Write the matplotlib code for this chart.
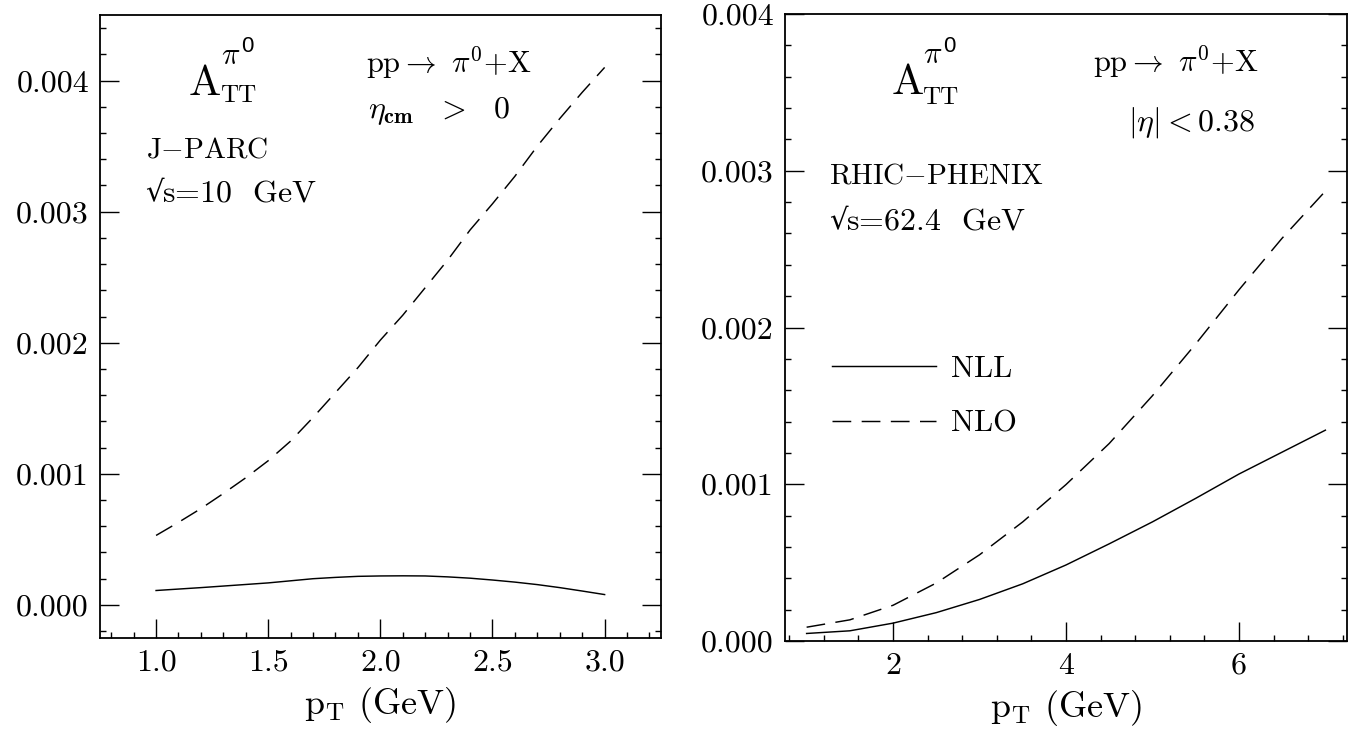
import matplotlib
matplotlib.use("Agg")
import matplotlib.pyplot as plt
from matplotlib.ticker import MultipleLocator

# ---------------- data ----------------
jparc_pt = [1.0, 1.1, 1.2, 1.3, 1.4, 1.5, 1.6, 1.7, 1.8, 1.9, 2.0,
            2.1, 2.2, 2.3, 2.4, 2.5, 2.6, 2.7, 2.8, 2.9, 3.0]
jparc_nlo = [0.00053, 0.00063, 0.000735, 0.00085, 0.00097, 0.00110, 0.00125,
             0.00143, 0.00162, 0.00181, 0.00202, 0.00221, 0.00242, 0.00263,
             0.00286, 0.00306, 0.00327, 0.00350, 0.00371, 0.00391, 0.00410]
jparc_nll = [0.000110, 0.000121, 0.000132, 0.000144, 0.000156, 0.000168,
             0.000184, 0.000200, 0.000210, 0.000218, 0.000221, 0.000222,
             0.000221, 0.000214, 0.000204, 0.000190, 0.000174, 0.000155,
             0.000132, 0.000106, 0.000079]

rhic_pt = [1.0, 1.5, 2.0, 2.5, 3.0, 3.5, 4.0, 4.5, 5.0, 5.5, 6.0, 6.5, 7.0]
rhic_nll = [0.000048, 0.000065, 0.000114, 0.000181, 0.000265, 0.000365,
            0.000485, 0.000620, 0.000760, 0.000910, 0.001065, 0.001205,
            0.001345]
rhic_nlo = [0.000088, 0.000135, 0.000228, 0.000370, 0.000550, 0.000760,
            0.000998, 0.001260, 0.001565, 0.001895, 0.002240, 0.002570,
            0.002870]

left_yticks = [0.000, 0.001, 0.002, 0.003, 0.004]
left_yticklabels = ["0.000", "0.001", "0.002", "0.003", "0.004"]
left_xticks = [1.0, 1.5, 2.0, 2.5, 3.0]
left_xticklabels = ["1.0", "1.5", "2.0", "2.5", "3.0"]
right_yticks = [0.000, 0.001, 0.002, 0.003, 0.004]
right_yticklabels = ["0.000", "0.001", "0.002", "0.003", "0.004"]
right_xticks = [2, 4, 6]
right_xticklabels = ["2", "4", "6"]

# ---------------- style ----------------
plt.rcParams['font.family'] = ['cmr10', 'DejaVu Serif']
plt.rcParams['mathtext.fontset'] = 'cm'
plt.rcParams['axes.unicode_minus'] = False
plt.rcParams['axes.formatter.use_mathtext'] = True
plt.rcParams['lines.scale_dashes'] = False

W, H = 1358, 734
fig = plt.figure(figsize=(W / 100, H / 100), dpi=100)
ax1 = fig.add_axes([100 / W, 1 - 637.7 / H, 560.7 / W, 622.7 / H])
ax2 = fig.add_axes([785 / W, 1 - 641 / H, 562 / W, 627 / H])

DASH = (0, (13.5, 7.5))
LW = 1.05

ax1.plot(jparc_pt, jparc_nlo, color='black', lw=LW, linestyle=DASH)
ax1.plot(jparc_pt, jparc_nll, color='black', lw=LW)
ax2.plot(rhic_pt, rhic_nll, color='black', lw=LW, label='NLL')
ax2.plot(rhic_pt, rhic_nlo, color='black', lw=LW, linestyle=DASH, label='NLO')

ax1.set_xlim(0.75, 3.25)
ax1.set_ylim(-0.00025, 0.0045)
ax2.set_xlim(0.75, 7.25)
ax2.set_ylim(0.0, 0.004)

ax1.set_xticks(left_xticks, left_xticklabels)
ax1.set_yticks(left_yticks, left_yticklabels)
ax1.xaxis.set_minor_locator(MultipleLocator(0.1))
ax1.yaxis.set_minor_locator(MultipleLocator(0.0002))
ax2.set_xticks(right_xticks, right_xticklabels)
ax2.set_yticks(right_yticks, right_yticklabels)
ax2.xaxis.set_minor_locator(MultipleLocator(0.4))
ax2.yaxis.set_minor_locator(MultipleLocator(0.0002))

for ax in (ax1, ax2):
    for sp in ax.spines.values():
        sp.set_linewidth(1.3)
    ax.tick_params(which='both', direction='in', top=False, right=True,
                   width=1.0, labelsize=23, pad=8)
    ax.tick_params(which='major', length=13.5)
    ax.tick_params(which='minor', length=4.5)
    ax.set_xlabel(r"p$_{\rm T}$ (GeV)", fontsize=26, labelpad=6)

ax2.legend(loc='upper left', bbox_to_anchor=(47 / 562, 0.456),
           frameon=False, fontsize=22, handlelength=3.4,
           handletextpad=0.5, labelspacing=0.9, borderpad=0,
           borderaxespad=0)


def ptext(x, y, s, size, **kw):
    fig.text(x / W, 1 - y / H, s, fontsize=size, ha='left', va='baseline', **kw)


# left panel annotations
ptext(189, 95, "A", 31)
ptext(220, 102, "TT", 18)
ptext(221, 64, r"$\pi$", 22)
ptext(241, 52, "0", 16, family='Liberation Sans')
ptext(366, 73, r"pp$\rightarrow$ $\pi^{\mathsf{0}}$+X", 22)
ptext(368, 118, r"$\eta_{\mathbf{cm}}$  $>$  $\mathsf{0}$", 23)
ptext(146, 157, r"J$-$PARC", 21)
ptext(145, 201, "\u221a", 21, family='DejaVu Sans')
ptext(162, 201, r"s=$\mathsf{10}$  GeV", 23)

# right panel annotations
ptext(892, 94, "A", 31)
ptext(922, 104, "TT", 18)
ptext(923, 63, r"$\pi$", 22)
ptext(943, 52, "0", 16, family='Liberation Sans')
ptext(1093, 72, r"pp$\rightarrow$ $\pi^{\mathsf{0}}$+X", 22)
ptext(1128, 131, r"$|\eta|$$<$$\mathsf{0.38}$", 23)
ptext(829, 183, r"RHIC$-$PHENIX", 21)
ptext(829, 229, "\u221a", 21, family='DejaVu Sans')
ptext(846, 229, r"s=$\mathsf{62.4}$  GeV", 23)

fig.savefig("out.png", dpi=100)
